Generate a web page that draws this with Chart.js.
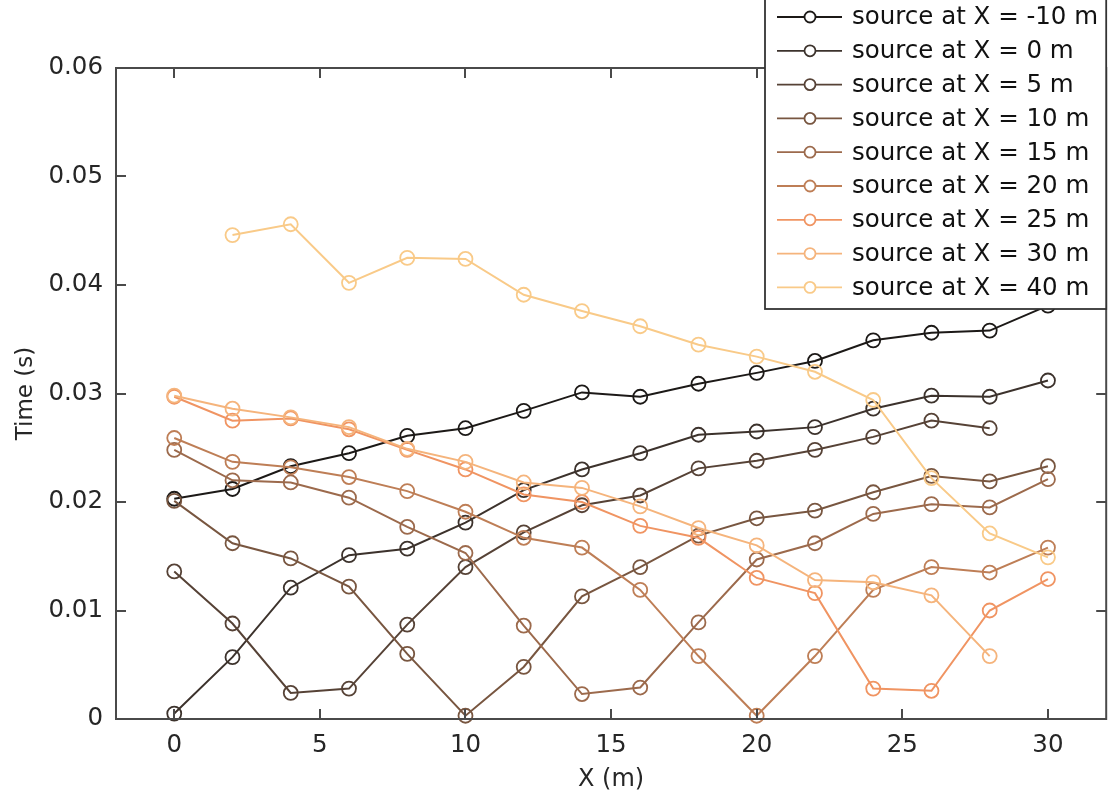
<!DOCTYPE html>
<html>
<head>
<meta charset="utf-8">
<script src="https://cdn.jsdelivr.net/npm/chart.js@4"></script>
<style>
  html, body { margin: 0; padding: 0; background: #fff; }
  canvas { display: block; }
</style>
</head>
<body>
<canvas id="traveltime-chart" width="1115" height="796"></canvas>
<script>
// receiver positions along the line (m)
const receiverX = [0, 2, 4, 6, 8, 10, 12, 14, 16, 18, 20, 22, 24, 26, 28, 30];
const xTicks = [0, 5, 10, 15, 20, 25, 30];
const yTicks = [0, 0.01, 0.02, 0.03, 0.04, 0.05, 0.06];

// first arrival times (s) per shot position, null where there is no pick
const srcM10 = [0.0203, 0.0212, 0.0233, 0.0245, 0.0261, 0.0268, 0.0284, 0.0301, 0.0297, 0.0309, 0.0319, 0.0330, 0.0349, 0.0356, 0.0358, 0.0381];
const src0   = [0.0005, 0.0057, 0.0121, 0.0151, 0.0157, 0.0181, 0.0211, 0.0230, 0.0245, 0.0262, 0.0265, 0.0269, 0.0286, 0.0298, 0.0297, 0.0312];
const src5   = [0.0136, 0.0088, 0.0024, 0.0028, 0.0087, 0.0140, 0.0172, 0.0197, 0.0206, 0.0231, 0.0238, 0.0248, 0.0260, 0.0275, 0.0268, null];
const src10  = [0.0201, 0.0162, 0.0148, 0.0122, 0.0060, 0.0003, 0.0048, 0.0113, 0.0140, 0.0169, 0.0185, 0.0192, 0.0209, 0.0224, 0.0219, 0.0233];
const src15  = [0.0248, 0.0220, 0.0218, 0.0204, 0.0177, 0.0153, 0.0086, 0.0023, 0.0029, 0.0089, 0.0147, 0.0162, 0.0189, 0.0198, 0.0195, 0.0221];
const src20  = [0.0259, 0.0237, 0.0232, 0.0223, 0.0210, 0.0191, 0.0167, 0.0158, 0.0119, 0.0058, 0.0003, 0.0058, 0.0119, 0.0140, 0.0135, 0.0158];
const src25  = [0.0297, 0.0275, 0.0277, 0.0267, 0.0248, 0.0230, 0.0207, 0.0200, 0.0178, 0.0167, 0.0130, 0.0116, 0.0028, 0.0026, 0.0100, 0.0129];
const src30  = [0.0298, 0.0286, 0.0278, 0.0269, 0.0249, 0.0237, 0.0218, 0.0213, 0.0196, 0.0176, 0.0160, 0.0128, 0.0126, 0.0114, 0.0058, null];
const src40  = [null, 0.0446, 0.0456, 0.0402, 0.0425, 0.0424, 0.0391, 0.0376, 0.0362, 0.0345, 0.0334, 0.0320, 0.0294, 0.0222, 0.0171, 0.0149];

const seriesLabels = [
  "source at X = -10 m", "source at X = 0 m", "source at X = 5 m",
  "source at X = 10 m", "source at X = 15 m", "source at X = 20 m",
  "source at X = 25 m", "source at X = 30 m", "source at X = 40 m"
];
const seriesValues = [srcM10, src0, src5, src10, src15, src20, src25, src30, src40];
const seriesColors = [
  "rgb(28, 25, 23)", "rgb(60, 50, 44)", "rgb(86, 66, 54)",
  "rgb(120, 86, 64)", "rgb(156, 106, 76)", "rgb(190, 126, 86)",
  "rgb(240, 148, 98)", "rgb(245, 180, 124)", "rgb(249, 202, 136)"
];

const FONT = "'DejaVu Sans', sans-serif";
const INK = "#262626";
const AXIS = "#4a4a4a";

const datasets = seriesValues.map((vals, i) => ({
  label: seriesLabels[i],
  data: receiverX.map((x, j) => ({ x: x, y: vals[j] })).filter(p => p.y !== null),
  showLine: true,
  borderColor: seriesColors[i],
  borderWidth: 2,
  pointStyle: "circle",
  pointRadius: 7,
  pointBorderWidth: 1.8,
  pointBorderColor: seriesColors[i],
  pointBackgroundColor: "rgba(0,0,0,0)",
  backgroundColor: "rgba(0,0,0,0)",
  tension: 0,
  clip: false,
  order: seriesValues.length - i // later shots drawn on top
}));

// box around the axes with inward ticks on every side, plus the legend box
const frameAndLegend = {
  id: "frameAndLegend",
  afterDraw(chart) {
    const { ctx, chartArea: a, scales } = chart;
    const tick = 10;
    ctx.save();
    ctx.strokeStyle = AXIS;
    ctx.lineWidth = 2;
    ctx.strokeRect(a.left, a.top, a.right - a.left, a.bottom - a.top);
    ctx.beginPath();
    xTicks.forEach(v => {
      const px = Math.round(scales.x.getPixelForValue(v));
      ctx.moveTo(px, a.bottom); ctx.lineTo(px, a.bottom - tick);
      ctx.moveTo(px, a.top); ctx.lineTo(px, a.top + tick);
    });
    yTicks.forEach(v => {
      const py = Math.round(scales.y.getPixelForValue(v));
      ctx.moveTo(a.left, py); ctx.lineTo(a.left + tick, py);
      ctx.moveTo(a.right, py); ctx.lineTo(a.right - tick, py);
    });
    ctx.stroke();

    // legend, anchored to the top right corner and running off the top edge
    const boxL = 765, boxR = a.right, boxB = 309;
    ctx.fillStyle = "#fff";
    ctx.fillRect(boxL, -2, boxR - boxL, boxB + 2);
    ctx.lineWidth = 1.8;
    ctx.strokeStyle = "#333";
    ctx.strokeRect(boxL, -2, boxR - boxL, boxB + 2);
    ctx.font = "24.5px " + FONT;
    ctx.textBaseline = "middle";
    ctx.textAlign = "left";
    chart.data.datasets.forEach((ds, i) => {
      const cy = 17 + i * 33.8;
      ctx.strokeStyle = ds.borderColor;
      ctx.lineWidth = 1.8;
      ctx.beginPath();
      ctx.moveTo(777, cy); ctx.lineTo(842, cy);
      ctx.stroke();
      ctx.fillStyle = "#fff";
      ctx.beginPath();
      ctx.arc(810, cy, 5.5, 0, Math.PI * 2);
      ctx.fill();
      ctx.stroke();
      ctx.fillStyle = "#111";
      ctx.fillText(ds.label, 852, cy + 1);
    });
    ctx.restore();
  }
};

new Chart(document.getElementById("traveltime-chart"), {
  type: "scatter",
  data: { datasets: datasets },
  options: {
    responsive: false,
    animation: false,
    devicePixelRatio: 1,
    layout: { padding: { top: 68, right: 2, left: 0, bottom: 0 } },
    plugins: { legend: { display: false }, tooltip: { enabled: false } },
    scales: {
      x: {
        type: "linear",
        min: -2,
        max: 32,
        grid: { display: false, drawTicks: false },
        border: { display: false },
        afterBuildTicks: scale => { scale.ticks = xTicks.map(v => ({ value: v })); },
        afterFit: scale => { scale.height = 77; },
        ticks: { color: INK, font: { family: FONT, size: 24.5 }, padding: 12, maxRotation: 0 },
        title: { display: true, text: "X (m)", color: INK, font: { family: FONT, size: 24 }, padding: { top: 0, bottom: 2 } }
      },
      y: {
        type: "linear",
        min: 0,
        max: 0.06,
        grid: { display: false, drawTicks: false },
        border: { display: false },
        afterBuildTicks: scale => { scale.ticks = yTicks.map(v => ({ value: v })); },
        afterFit: scale => { scale.width = 116; },
        ticks: {
          color: INK,
          font: { family: FONT, size: 24.5 },
          padding: 13,
          callback: v => String(Math.round(v * 100) / 100)
        },
        title: { display: true, text: "Time (s)", color: INK, font: { family: FONT, size: 23 }, padding: { top: 12, bottom: 0 } }
      }
    }
  },
  plugins: [frameAndLegend]
});
</script>
</body>
</html>
